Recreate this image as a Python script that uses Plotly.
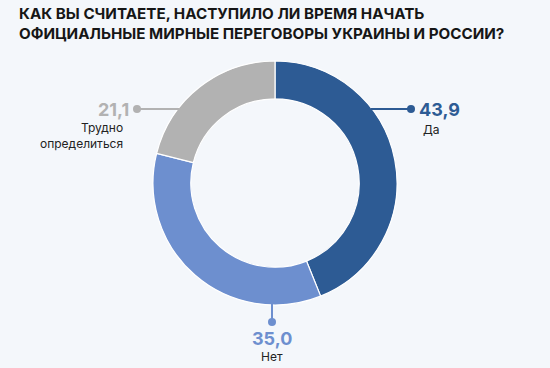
import plotly.graph_objects as go

labels = ["Да", "Нет", "Трудно<br>определиться"]
values = [43.9, 35.0, 21.1]
value_text = ["43,9", "35,0", "21,1"]
colors = ["#2d5b94", "#6d8fcf", "#b2b2b2"]
title_lines = ["КАК ВЫ СЧИТАЕТЕ, НАСТУПИЛО ЛИ ВРЕМЯ НАЧАТЬ",
               "ОФИЦИАЛЬНЫЕ МИРНЫЕ ПЕРЕГОВОРЫ УКРАИНЫ И РОССИИ?"]

W, H = 550, 368
cx, cy, R = 275, 183, 122
bg = "#f4f7fb"

fig = go.Figure()
fig.add_trace(go.Pie(
    labels=labels, values=values, hole=0.69, sort=False, direction="clockwise",
    rotation=0, textinfo="none", hoverinfo="label+value",
    marker=dict(colors=colors, line=dict(color="white", width=1.2)),
    domain=dict(x=[(cx - R) / W, (cx + R) / W], y=[(H - cy - R) / H, (H - cy + R) / H]),
    showlegend=False,
))

# leader lines: (x0,y0) on ring edge -> (x1,y1) dot
leaders = [
    (371, 109, 411, 109),
    (272, 304, 272, 322),
    (179, 109, 137, 109),
]
shapes = []
for (x0, y0, x1, y1), c in zip(leaders, colors):
    shapes.append(dict(type="line", xref="x", yref="y", x0=x0, y0=y0, x1=x1, y1=y1,
                       line=dict(color=c, width=2)))
    shapes.append(dict(type="circle", xref="x", yref="y", x0=x1 - 4, y0=y1 - 4, x1=x1 + 4, y1=y1 + 4,
                       fillcolor=c, line=dict(width=0)))

font_b = "Inter, Roboto, sans-serif"
ann = []
# Да
ann.append(dict(x=417, y=109, text=f"<b>{value_text[0]}</b>", xanchor="left", yanchor="middle",
                font=dict(size=18, color=colors[0], family=font_b)))
ann.append(dict(x=421, y=129, text=labels[0], xanchor="left", yanchor="middle",
                font=dict(size=12, color="#222222", family=font_b)))
# Нет
ann.append(dict(x=272, y=338, text=f"<b>{value_text[1]}</b>", xanchor="center", yanchor="middle",
                font=dict(size=18, color=colors[1], family=font_b)))
ann.append(dict(x=272, y=356, text=labels[1], xanchor="center", yanchor="middle",
                font=dict(size=12, color="#222222", family=font_b)))
# Трудно
ann.append(dict(x=131, y=109, text=f"<b>{value_text[2]}</b>", xanchor="right", yanchor="middle",
                font=dict(size=18, color=colors[2], family=font_b)))
ann.append(dict(x=125, y=135, text=labels[2], xanchor="right", yanchor="middle", align="right",
                font=dict(size=12, color="#222222", family=font_b)))
# title
ann.append(dict(x=17, y=23, text="<b>" + "<br>".join(title_lines) + "</b>", xanchor="left",
                yanchor="middle", align="left",
                font=dict(size=15.2, color="#161616", family=font_b)))
for a in ann:
    a.update(xref="x", yref="y", showarrow=False)

fig.update_layout(
    width=W, height=H, margin=dict(l=0, r=0, t=0, b=0),
    paper_bgcolor=bg, plot_bgcolor=bg,
    xaxis=dict(range=[0, W], visible=False, fixedrange=True),
    yaxis=dict(range=[H, 0], visible=False, fixedrange=True),
    shapes=shapes, annotations=ann,
)
fig.write_html("out.html", config={"displayModeBar": False},
               post_script="document.body.style.margin='0';document.body.style.background='%s';" % bg)
